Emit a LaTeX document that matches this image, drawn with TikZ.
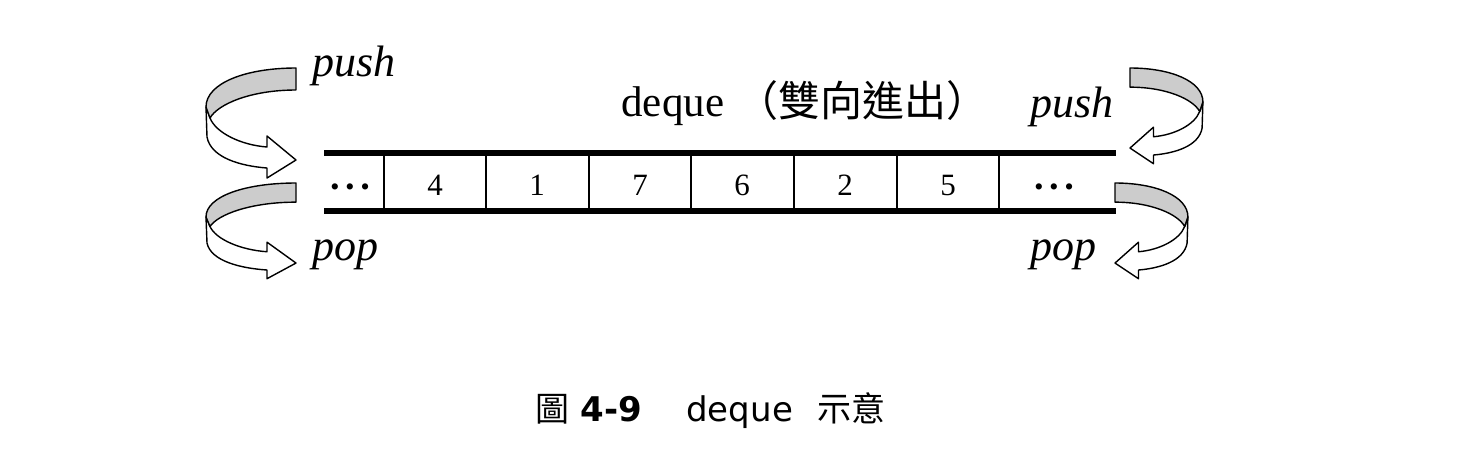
\documentclass[tikz,border=0pt]{standalone}
\usepackage{fontspec}
\setmainfont{Liberation Serif}
\newfontfamily\cjk{Noto Sans CJK TC}
\newfontfamily\capsans{DejaVu Sans}
\definecolor{ribgray}{RGB}{204,204,204}
\newcommand\ribbonarrow{%
  \path[ribbot] (-90,39) -- (-89,69) .. controls (-85,90) and (-55,98) .. (-29,100)
     -- (-29,110) -- (0,92) -- (-29,68) -- (-29,79)
     .. controls (-55,77) and (-80,65) .. (-86,50) -- cycle;
  \path[ribtop] (0,0) .. controls (-50,0) and (-90,15) .. (-90,39) -- (-86,50)
     .. controls (-78,36) and (-45,22) .. (0,22) -- cycle;
}
\newcommand\threedots{{\fontsize{13}{14}\selectfont •\hspace{3pt}•\hspace{3pt}•}}
\begin{document}
\begin{tikzpicture}[x=0.5pt,y=-0.5pt,
  rail/.style={line width=3pt},
  divider/.style={line width=0.7pt},
  cell/.style={font=\fontsize{15.5}{18}\selectfont, anchor=base, inner sep=0pt},
  dotcell/.style={anchor=center, inner sep=0pt},
  lbl/.style={font=\fontsize{22}{26}\selectfont\itshape, anchor=base west, inner sep=0pt},
  ribtop/.style={draw, fill=ribgray, line width=0.7pt, line join=round},
  ribbot/.style={draw, fill=white, line width=0.7pt, line join=round},
  capcjk/.style={font=\cjk\fontsize{17}{20}\selectfont, anchor=base west, inner sep=0pt},
  capsf/.style={font=\capsans\fontsize{17}{20}\selectfont, anchor=base west, inner sep=0pt}]
\useasboundingbox (0,0) rectangle (1461,452);

% rails and cells
\draw[rail] (324,153) -- (1116,153);
\draw[rail] (324,211) -- (1116,211);
\foreach \x in {384,486,589,691,794,897,999}
  \draw[divider] (\x,156) -- (\x,208);
\node[dotcell] (c0) at (350,190) {\threedots};
\node[cell] (c1) at (435,195) {4};
\node[cell] (c2) at (537,195) {1};
\node[cell] (c3) at (640,195) {7};
\node[cell] (c4) at (742,195) {6};
\node[cell] (c5) at (845,195) {2};
\node[cell] (c6) at (948,195) {5};
\node[dotcell] (c7) at (1054,190) {\threedots};

% title
\node[anchor=base west, inner sep=0pt, font=\fontsize{21.5}{26}\selectfont] (title) at (621,116) {deque};
\node[anchor=base west, inner sep=0pt, font=\cjk\fontsize{21}{26}\selectfont] (titlecjk) at (736,116) {（雙向進出）};

% labels
\node[lbl] (pushL) at (312,76) {push};
\node[lbl] (pushR) at (1030,117) {push};
\node[lbl] (popL) at (312,260) {pop};
\node[lbl] (popR) at (1030,260) {pop};

% ribbon arrows
\begin{scope}[shift={(296,68)}] \ribbonarrow \end{scope}
\begin{scope}[shift={(296,183)}, yscale=0.87] \ribbonarrow \end{scope}
\begin{scope}[shift={(1130,68)}, xscale=-0.81, yscale=0.87] \ribbonarrow \end{scope}
\begin{scope}[shift={(1115,183)}, xscale=-0.81, yscale=0.87] \ribbonarrow \end{scope}

% caption
\node[capcjk] (capA) at (535,421) {圖};
\node[capsf, font=\capsans\bfseries\fontsize{17}{20}\selectfont] (capB) at (580,421) {4-9};
\node[capsf] (capC) at (686,421) {deque};
\node[capcjk] (capD) at (817,421) {示意};
\end{tikzpicture}
\end{document}
